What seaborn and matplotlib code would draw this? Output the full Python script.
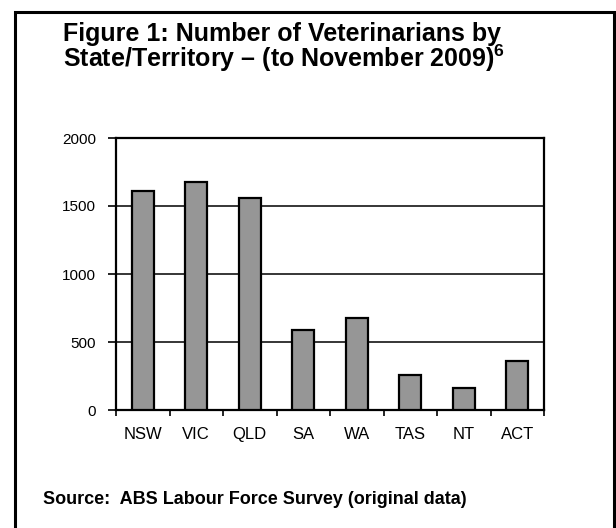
import matplotlib
matplotlib.use("Agg")
import matplotlib.pyplot as plt
import matplotlib.patches as mpatches
import seaborn as sns
import pandas as pd

states = ["NSW", "VIC", "QLD", "SA", "WA", "TAS", "NT", "ACT"]
vets = [1610, 1673, 1561, 585, 674, 260, 162, 363]
y_ticks = [0, 500, 1000, 1500, 2000]

sns.set_theme(style="white")
plt.rcParams["font.family"] = ["Liberation Sans", "DejaVu Sans"]
plt.rcParams["mathtext.fontset"] = "custom"
plt.rcParams["mathtext.rm"] = "Liberation Sans:bold"
plt.rcParams["mathtext.bf"] = "Liberation Sans:bold"

df = pd.DataFrame({"state": states, "vets": vets})

fig = plt.figure(figsize=(6.16, 5.28), dpi=100)
ax = fig.add_axes([116 / 616, 1 - 410 / 528, 428 / 616, 272 / 528])

sns.barplot(data=df, x="state", y="vets", color="#969696", saturation=1,
            width=0.42, edgecolor="black", linewidth=1.6, ax=ax, zorder=3)

ax.set_ylim(0, 2000)
ax.set_xlim(-0.5, len(states) - 0.5)
ax.set_yticks(y_ticks)
ax.set_xlabel("")
ax.set_ylabel("")

# horizontal gridlines
for y in y_ticks[1:]:
    ax.axhline(y, color="black", linewidth=1.1, zorder=1)

for side in ["left", "right", "top", "bottom"]:
    ax.spines[side].set_visible(True)
    ax.spines[side].set_color("black")
    ax.spines[side].set_linewidth(1.6)

ax.tick_params(axis="y", which="major", direction="out", length=5.5, width=1.2,
               color="black", labelsize=11, pad=9, left=True)
ax.tick_params(axis="x", which="major", length=0, labelsize=12, pad=12)
# category boundary ticks below the axis
ax.set_xticks([i - 0.5 for i in range(len(states) + 1)], minor=True)
ax.tick_params(axis="x", which="minor", direction="out", length=4, width=1.2,
               color="black", bottom=True)
for lbl in ax.get_xticklabels() + ax.get_yticklabels():
    lbl.set_color("black")

fig.text(63 / 616, 1 - 67 / 528,
         "Figure 1: Number of Veterinarians by\nState/Territory \u2013 (to November 2009)$^{6}$",
         ha="left", va="baseline", fontsize=18, fontweight="bold", color="black",
         linespacing=0.85)

fig.text(43 / 616, 1 - 504 / 528,
         "Source:  ABS Labour Force Survey (original data)",
         ha="left", va="baseline", fontsize=13, fontweight="bold", color="black")

# outer border (open below the bottom edge)
frame = mpatches.Rectangle((14.5 / 616, -10 / 528), 599 / 616, 526.5 / 528,
                           transform=fig.transFigure, fill=False,
                           edgecolor="black", linewidth=2.2)
fig.add_artist(frame)

fig.savefig("out.png", dpi=100)
